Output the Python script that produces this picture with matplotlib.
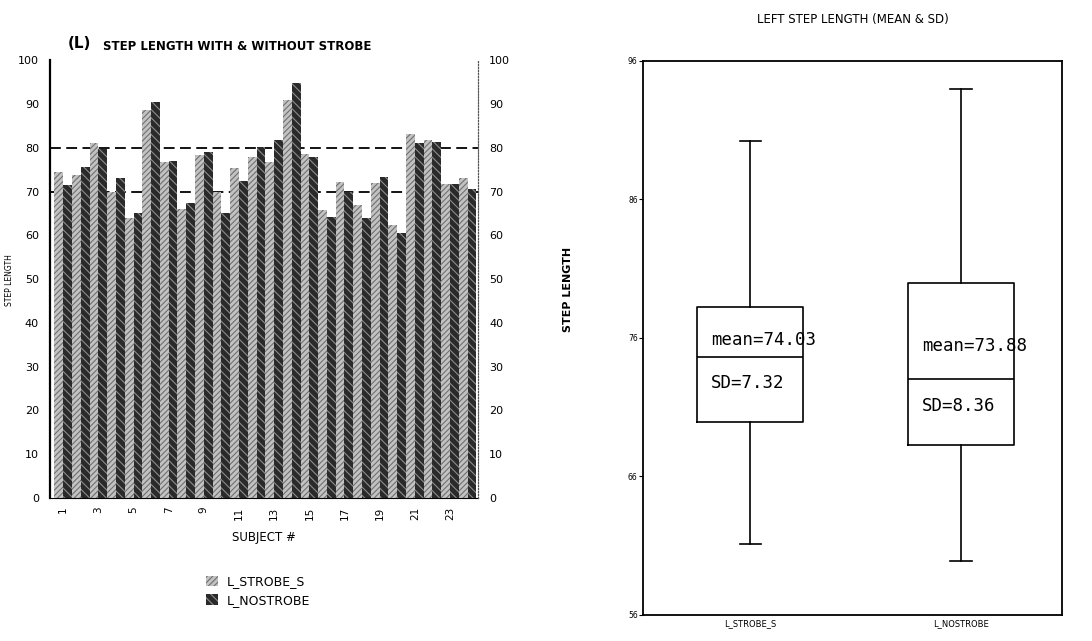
import numpy as np
import matplotlib
matplotlib.use('Agg')
import matplotlib.pyplot as plt

plt.rcParams['hatch.linewidth'] = 0.8

# left panel: step length per subject
subjects = np.arange(1, 25)
l_strobe_s = [74.5, 73.7, 81.0, 70.0, 63.9, 88.7, 76.8, 66.0, 78.3, 70.0, 75.4, 78.0,
              76.8, 90.9, 78.7, 65.8, 72.2, 67.0, 72.0, 62.3, 83.1, 81.7, 71.7, 73.0]
l_nostrobe = [71.5, 75.6, 79.8, 73.0, 65.2, 90.4, 77.0, 67.3, 79.1, 65.0, 72.5, 80.2,
              81.7, 94.8, 77.9, 64.3, 70.0, 64.0, 73.4, 60.6, 81.0, 81.4, 71.7, 70.5]
series_names = ['L_STROBE_S', 'L_NOSTROBE']
ref_levels = [70, 80]

# right panel: summary boxes
groups = ['L_STROBE_S', 'L_NOSTROBE']
whisk_hi = [90.2, 94.0]
box_hi = [78.2, 80.0]
box_mid = [74.6, 73.0]
box_lo = [69.9, 68.3]
whisk_lo = [61.1, 59.9]
means = [74.03, 73.88]
sds = [7.32, 8.36]

fig = plt.figure(figsize=(10.92, 6.41), dpi=100)

# ---- left: grouped bars
ax = fig.add_axes([0.0458, 0.223, 0.392, 0.683])
xx = np.arange(len(subjects))
w = 0.5
ax.bar(xx - 0.25, l_strobe_s, w, color='#c2c2c2', edgecolor='#707070',
       hatch='//////', linewidth=0, label=series_names[0], zorder=2)
ax.bar(xx + 0.25, l_nostrobe, w, color='#2a2a2a', edgecolor='#8c8c8c',
       hatch='\\\\\\\\', linewidth=0, label=series_names[1], zorder=2)
for lev in ref_levels:
    ax.axhline(lev, linestyle=(0, (6, 3)), color='black', linewidth=1.3, zorder=1)
ax.set_xlim(-0.75, 23.6)
ax.set_ylim(0, 100)
ax.set_yticks(np.arange(0, 101, 10))
ax.tick_params(axis='y', length=0, labelsize=8, pad=8)
ax.set_xticks(xx[::2])
ax.set_xticklabels([str(s) for s in subjects[::2]], rotation=90, fontsize=7.5)
ax.tick_params(axis='x', length=0, pad=6)
ax.spines['top'].set_visible(False)
ax.spines['left'].set_linewidth(1.6)
ax.spines['right'].set_linestyle(':')
ax.spines['right'].set_color('#555555')
ax.set_xlabel('SUBJECT #', fontsize=8.5, labelpad=8)

ax2 = ax.twinx()
ax2.set_ylim(0, 100)
ax2.set_yticks(np.arange(0, 101, 10))
ax2.tick_params(axis='y', length=0, labelsize=8, pad=8)
for s in ['top', 'left', 'bottom']:
    ax2.spines[s].set_visible(False)
ax2.spines['right'].set_linestyle(':')
ax2.spines['right'].set_color('#555555')

fig.text(68 / 1092, 1 - 44 / 641, '(L)', fontsize=11, fontweight='bold', va='center')
fig.text(103 / 1092, 1 - 46 / 641, 'STEP LENGTH WITH & WITHOUT STROBE',
         fontsize=8.5, fontweight='bold', va='center')
fig.text(10 / 1092, 1 - 280 / 641, 'STEP LENGTH', rotation=90, fontsize=5.5,
         ha='center', va='center')

h, l = ax.get_legend_handles_labels()
fig.legend(h, l, loc='upper left', bbox_to_anchor=(195 / 1092, 1 - 564 / 641),
           frameon=False, fontsize=9, handlelength=0.9, handleheight=0.9,
           labelspacing=0.45, handletextpad=0.7)

# ---- right: mean & SD boxes
bx = fig.add_axes([0.589, 0.0406, 0.3835, 0.8644])
stats = []
for i in range(len(groups)):
    stats.append(dict(med=box_mid[i], q1=box_lo[i], q3=box_hi[i],
                      whislo=whisk_lo[i], whishi=whisk_hi[i], label=groups[i]))
pos = np.arange(1, len(groups) + 1)
bx.bxp(stats, positions=pos, widths=0.5, capwidths=0.1, showfliers=False,
       boxprops=dict(color='black', linewidth=1.2),
       medianprops=dict(color='black', linewidth=1.2),
       whiskerprops=dict(color='black', linewidth=1.2),
       capprops=dict(color='black', linewidth=1.2))
for i in range(len(groups)):
    y_m = box_mid[i] + 0.35 * (box_hi[i] - box_mid[i])
    y_s = box_mid[i] - 0.4 * (box_mid[i] - box_lo[i])
    bx.text(pos[i] - 0.25 + 0.065, y_m, 'mean=%.2f' % means[i], family='DejaVu Sans Mono',
            fontsize=12.5, ha='left', va='center')
    bx.text(pos[i] - 0.25 + 0.065, y_s, 'SD=%.2f' % sds[i], family='DejaVu Sans Mono',
            fontsize=12.5, ha='left', va='center')
bx.set_xlim(0.493, 2.479)
bx.set_ylim(56, 96)
bx.set_yticks([56, 66, 76, 86, 96])
bx.tick_params(axis='y', labelsize=5.5, length=3, pad=1)
bx.tick_params(axis='x', labelsize=6, length=0, pad=3)
for s in bx.spines.values():
    s.set_linewidth(1.3)
bx.set_title('LEFT STEP LENGTH (MEAN & SD)', fontsize=8.5, pad=27)
fig.text(568 / 1092, 1 - 289 / 641, 'STEP LENGTH', rotation=90, fontsize=8,
         fontweight='bold', ha='center', va='center')

fig.savefig('out.png', dpi=100)
